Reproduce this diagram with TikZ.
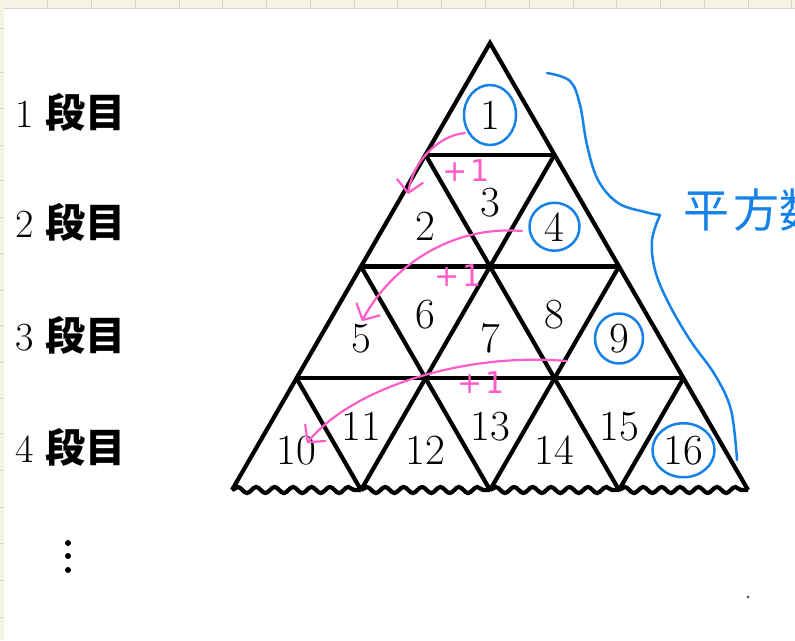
\documentclass[tikz,border=0pt]{standalone}
\usepackage{fontspec}
\newfontfamily\jpfont{Noto Sans CJK JP}
\newfontfamily\handfont{DejaVu Sans}
\usetikzlibrary{decorations.pathmorphing,arrows.meta}
\definecolor{penblue}{RGB}{22,130,232}
\definecolor{penpink}{RGB}{255,92,200}
\definecolor{sheet}{RGB}{245,243,228}
\definecolor{sheetline}{RGB}{214,212,196}
\tikzset{
  cell/.style={font=\fontsize{43}{43}\selectfont, inner sep=0pt},
  rowlabel/.style={anchor=west, font=\fontsize{40}{40}\selectfont, inner sep=0pt},
  bluepen/.style={draw=penblue, line width=2.5pt, line cap=round, line join=round},
  pinkpen/.style={draw=penpink, line width=2.2pt, line cap=round,
    -{Straight Barb[length=12pt, width=26pt, round]}},
  plusone/.style={text=penpink, font=\handfont\fontsize{30}{30}\selectfont, inner sep=0pt},
  wave/.style={decorate, decoration={snake, segment length=18.43pt, amplitude=3pt}},
}
\begin{document}
\begin{tikzpicture}[x=1pt, y=-1pt]
\useasboundingbox (0,0) rectangle (795,640);
% sheet border
\fill[sheet] (0,0) rectangle (795,8);
\fill[sheet] (0,0) rectangle (4,640);
\foreach \x in {47,91,135,179,222,266,310,354,397,441,485,529,573,616,660,704,748,791}
  \draw[sheetline, line width=0.6pt] (\x,0) -- (\x,8);
\foreach \y in {28,72,108,145,180,217,253,290,325,362,398,433,470,507,543,580,617}
  \draw[sheetline, line width=0.6pt] (0,\y) -- (4,\y);
\draw[sheetline, line width=0.6pt] (4,8) -- (795,8);

% triangle grid
\begin{scope}[xshift=490pt, yshift=-43pt, x=64.5pt, y=-111.75pt, line width=4.2pt]
\draw (-4,4) -- (0,0) -- (4,4);
\foreach \k in {1,2,3} {
  \draw (-\k,\k) -- (\k,\k);
  \draw (-\k,\k) -- ({4-2*\k},4);
  \draw (\k,\k) -- ({2*\k-4},4);
}
\foreach \i in {-4,-2,0,2}
  \draw[wave] (\i,4) -- (\i+2,4);
\end{scope}

% numbers
\foreach \r [evaluate=\r as \m using int(2*\r-1)] in {1,...,4} {
  \foreach \j in {1,...,\m} {
    \pgfmathtruncatemacro\n{(\r-1)^2+\j}
    \pgfmathsetmacro\cx{490+(\j-\r)*64.5}
    \pgfmathsetmacro\cy{43+111.75*(\r-1)+(mod(\j,2)==1 ? 72 : 48)}
    \node[cell] (n\n) at (\cx,\cy) {\n};
  }
}

% row labels
\foreach \r/\y in {1/112,2/222,3/335,4/447}
  \node[rowlabel] (lab\r) at (15,\y) {\r\ {\jpfont\bfseries 段目}};
\foreach \y in {543,556,570}
  \fill (68,\y) circle (3);
\fill[black!70] (748,597) circle (1.5);

% square numbers
\draw[bluepen] (n1) ellipse [x radius=26, y radius=30];
\draw[bluepen] (n4) ellipse [x radius=25, y radius=24];
\draw[bluepen] (n9) ellipse [x radius=24, y radius=25];
\draw[bluepen] (n16) ellipse [x radius=31, y radius=27];
\draw[bluepen] plot[smooth, tension=0.6] coordinates {(547,73) (570,81) (580,105) (587,145)
  (598,180) (618,203) (645,212) (660,215)};
\draw[bluepen] plot[smooth, tension=0.6] coordinates {(660,215) (652,240) (655,270) (668,302)
  (690,340) (715,375) (731,410) (737,460)};
\node[anchor=west, text=penblue, font=\jpfont\fontsize{46}{46}\selectfont, inner sep=0pt]
  (sq) at (683,210) {平\hspace{4pt}方数};

% +1 arrows
\coordinate (a1) at (465,133);
\coordinate (b1) at (408,194);
\coordinate (a2) at (522,231);
\coordinate (b2) at (362,321);
\coordinate (a3) at (567,361);
\coordinate (b3) at (307,443);
\draw[pinkpen] (a1) .. controls (440,135) and (413,160) .. (b1);
\draw[pinkpen] (a2) .. controls (450,225) and (390,268) .. (b2);
\draw[pinkpen] (a3) .. controls (460,352) and (350,390) .. (b3);
\node[plusone] (p1) at (466,171) {+\hspace{2pt}1};
\node[plusone] (p2) at (458,276) {+\hspace{2pt}1};
\node[plusone] (p3) at (481,383) {+\hspace{2pt}1};
\end{tikzpicture}
\end{document}
